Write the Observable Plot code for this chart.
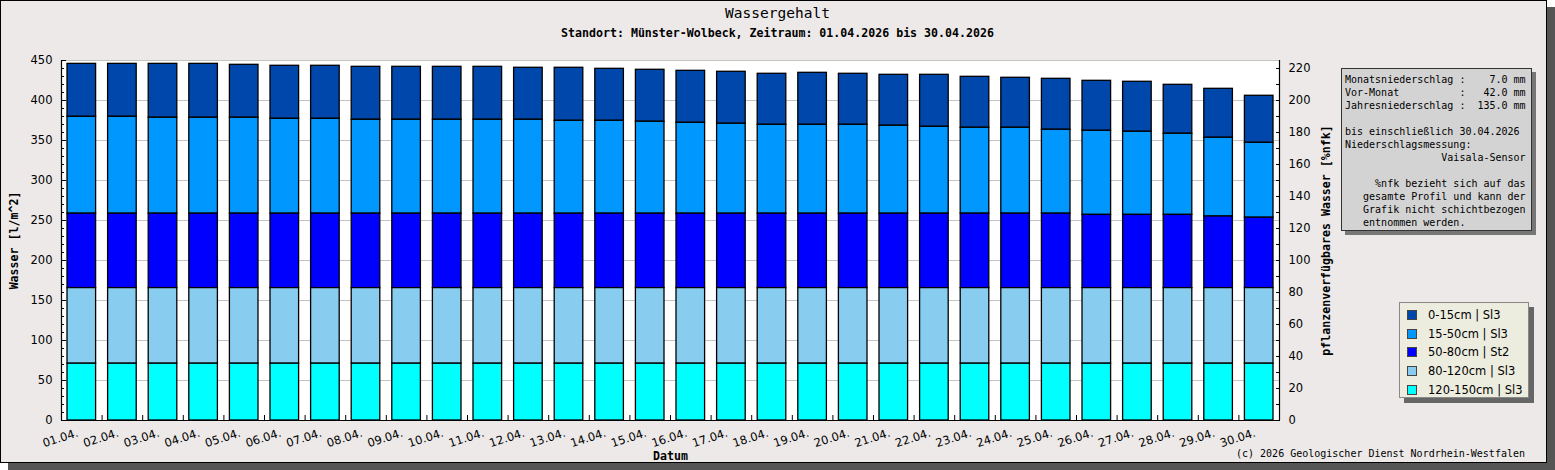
<!DOCTYPE html>
<html><head><meta charset="utf-8">
<script src="https://cdn.jsdelivr.net/npm/d3@7"></script>
<script src="https://cdn.jsdelivr.net/npm/@observablehq/plot@0.6"></script>
<style>
body{margin:0;background:#fff;}
#wrap{position:relative;width:1555px;height:470px;overflow:hidden;}
#box{position:absolute;left:0;top:0;width:1545px;height:461px;border:1px solid #000;background:#ece9e8;box-shadow:8px 7px 0 #555;}
#chart{position:absolute;left:0;top:0;}
.t{position:absolute;font-family:"DejaVu Sans Mono",monospace;white-space:pre;color:#000;}
#title{left:0;width:1555px;text-align:center;top:4px;font-size:14.5px;line-height:18px;}
#sub{left:0;width:1555px;text-align:center;top:26px;font-size:11.6px;font-weight:bold;line-height:14px;}
#info{left:1341px;top:68px;width:186px;height:157px;padding:4px 0 0 3px;background:#d3d3d3;border:1px solid #333;box-shadow:4px 4px 0 #777;font-size:10px;line-height:13px;}
#legend{position:absolute;left:1399px;top:302px;width:128px;height:94px;background:#ececdf;border:1px solid #888;box-shadow:5px 5px 0 #666;font-family:"DejaVu Sans",sans-serif;font-size:11.5px;}
.li{position:absolute;left:7px;height:19px;line-height:19px;white-space:nowrap;}
.sw{display:inline-block;width:10px;height:10px;border:1px solid #444;vertical-align:-1px;margin-right:11px;box-sizing:border-box;}
#copy{left:1236px;top:448px;font-size:10px;line-height:12px;}
</style></head>
<body>
<div id="wrap">
  <div id="box"></div>
  <div id="chart"></div>
  <div class="t" id="title"></div>
  <div class="t" id="sub"></div>
  <div class="t" id="info"></div>
  <div id="legend"></div>
  <div class="t" id="copy"></div>
</div>
<script>
const titleText = "Wassergehalt";
const subtitleText = "Standort: Münster-Wolbeck, Zeitraum: 01.04.2026 bis 30.04.2026";
const copyText = "(c) 2026 Geologischer Dienst Nordrhein-Westfalen";
const yLabel = "Wasser [l/m^2]";
const y2Label = "pflanzenverfügbares Wasser [%nfk]";
const xLabel = "Datum";

const days = ["01.04.","02.04.","03.04.","04.04.","05.04.","06.04.","07.04.","08.04.","09.04.","10.04.",
              "11.04.","12.04.","13.04.","14.04.","15.04.","16.04.","17.04.","18.04.","19.04.","20.04.",
              "21.04.","22.04.","23.04.","24.04.","25.04.","26.04.","27.04.","28.04.","29.04.","30.04."];

// layers from top to bottom (legend order)
const layers = ["0-15cm | Sl3","15-50cm | Sl3","50-80cm | St2","80-120cm | Sl3","120-150cm | Sl3"];
const colors = ["#0047ab","#0098ff","#0000ff","#88cdef","#00ffff"];

const l0_15   = [66.2,66.2,67.4,67.4,66.2,66.3,66.3,66.2,66.2,66.2,66.2,65.0,66.3,65.0,65.0,65.0,65.0,63.8,65.0,63.8,63.7,65.0,63.7,62.5,63.7,62.5,62.5,61.2,61.2,58.8];
const l15_50  = [121.1,121.1,119.9,119.9,119.9,118.6,118.6,117.4,117.4,117.4,117.4,117.4,116.1,116.1,114.9,113.6,112.4,111.1,111.1,111.1,109.9,108.6,107.4,107.4,104.9,105.1,103.9,101.4,98.4,93.6];
const l50_80  = [93,93,93,93,93,93,93,93,93,93,93,93,93,93,93,93,93,93,93,93,93,93,93,93,93,91.5,91.5,91.5,89.5,88];
const l80_120 = [94.5,94.5,94.5,94.5,94.5,94.5,94.5,94.5,94.5,94.5,94.5,94.5,94.5,94.5,94.5,94.5,94.5,94.5,94.5,94.5,94.5,94.5,94.5,94.5,94.5,94.5,94.5,94.5,94.5,94.5];
const l120_150= [71,71,71,71,71,71,71,71,71,71,71,71,71,71,71,71,71,71,71,71,71,71,71,71,71,71,71,71,71,71];

const yTicks = [0,50,100,150,200,250,300,350,400,450];
const y2Ticks = [0,20,40,60,80,100,120,140,160,180,200,220];
const nfkFactor = 2; // 1 %nfk = 2 l/m^2 on the axis

const infoLines = [
  "Monatsniederschlag :    7.0 mm",
  "Vor-Monat          :   42.0 mm",
  "Jahresniederschlag :  135.0 mm",
  "",
  "bis einschließlich 30.04.2026",
  "Niederschlagsmessung:",
  "                Vaisala-Sensor",
  "",
  "     %nfk bezieht sich auf das",
  "   gesamte Profil und kann der",
  "   Grafik nicht schichtbezogen",
  "   entnommen werden."
];

document.getElementById("title").textContent = titleText;
document.getElementById("sub").textContent = subtitleText;
document.getElementById("copy").textContent = copyText;
document.getElementById("info").textContent = infoLines.join("\n");

const leg = document.getElementById("legend");
layers.forEach((l, j) => {
  const row = document.createElement("div");
  row.className = "li";
  row.style.top = (3 + j * 18.7) + "px";
  const sw = document.createElement("span");
  sw.className = "sw";
  sw.style.background = colors[j];
  row.appendChild(sw);
  row.appendChild(document.createTextNode(l));
  leg.appendChild(row);
});

const values = [l0_15, l15_50, l50_80, l80_120, l120_150];
const table = [];
days.forEach((d, i) => {
  layers.forEach((l, j) => {
    table.push({i0: i, i1: i + 1, day: d, layer: l, value: values[j][i]});
  });
});
const stackOrder = layers.slice().reverse();

const mono = "DejaVu Sans Mono";
const chart = Plot.plot({
  width: 1555,
  height: 470,
  marginLeft: 61,
  marginRight: 276,
  marginTop: 60,
  marginBottom: 50,
  style: {background: "transparent", fontFamily: "DejaVu Sans", fontSize: "11.5px", color: "#000", overflow: "visible"},
  x: {domain: [0, days.length], axis: null},
  y: {domain: [0, 450], axis: null},
  color: {domain: layers, range: colors},
  marks: [
    Plot.frame({fill: "white"}),
    Plot.gridY(yTicks, {stroke: "#c4c4c4", strokeOpacity: 1}),
    Plot.rectY(table, {x1: "i0", x2: "i1", y: "value", fill: "layer", order: stackOrder,
                       stroke: "#000", strokeWidth: 1.3, insetLeft: 6, insetRight: 6}),
    Plot.ruleX([0, days.length], {stroke: "#000", strokeWidth: 1.2}),
    Plot.ruleY([0], {stroke: "#000", strokeWidth: 1.2}),
    Plot.axisY(yTicks, {anchor: "left", tickSize: 0, tickPadding: 9, label: null}),
    Plot.axisY(d3.range(0, 451, 10), {anchor: "left", tickSize: -3, tickFormat: () => "", label: null}),
    Plot.axisY(yTicks, {anchor: "left", tickSize: -5, tickFormat: () => "", label: null}),
    Plot.axisY(y2Ticks.map(v => v * nfkFactor), {anchor: "right", tickSize: 0, tickPadding: 9, tickFormat: d => String(d / nfkFactor), label: null}),
    Plot.axisY(d3.range(0, 226, 10).map(v => v * nfkFactor), {anchor: "right", tickSize: -4, tickFormat: () => "", label: null}),
    Plot.axisX(d3.range(1, days.length), {anchor: "bottom", tickSize: -5, tickFormat: () => "", label: null}),
    Plot.axisX(days.map((d, i) => i + 0.5), {anchor: "bottom", tickSize: 0, tickPadding: 12, tickRotate: -18, dx: -4,
                                             tickFormat: d => days[Math.floor(d)], label: null}),
    Plot.text([yLabel], {text: d => d, frameAnchor: "left", textAnchor: "middle", dx: -47, rotate: -90, fontFamily: mono, fontWeight: "bold", fontSize: 11.6}),
    Plot.text([y2Label], {text: d => d, frameAnchor: "right", textAnchor: "middle", dx: 47, rotate: -90, fontFamily: mono, fontWeight: "bold", fontSize: 11.6}),
    Plot.text([xLabel], {text: d => d, frameAnchor: "bottom", dy: 39, fontFamily: mono, fontWeight: "bold", fontSize: 11.6})
  ]
});
document.getElementById("chart").appendChild(chart);
</script>
</body></html>
